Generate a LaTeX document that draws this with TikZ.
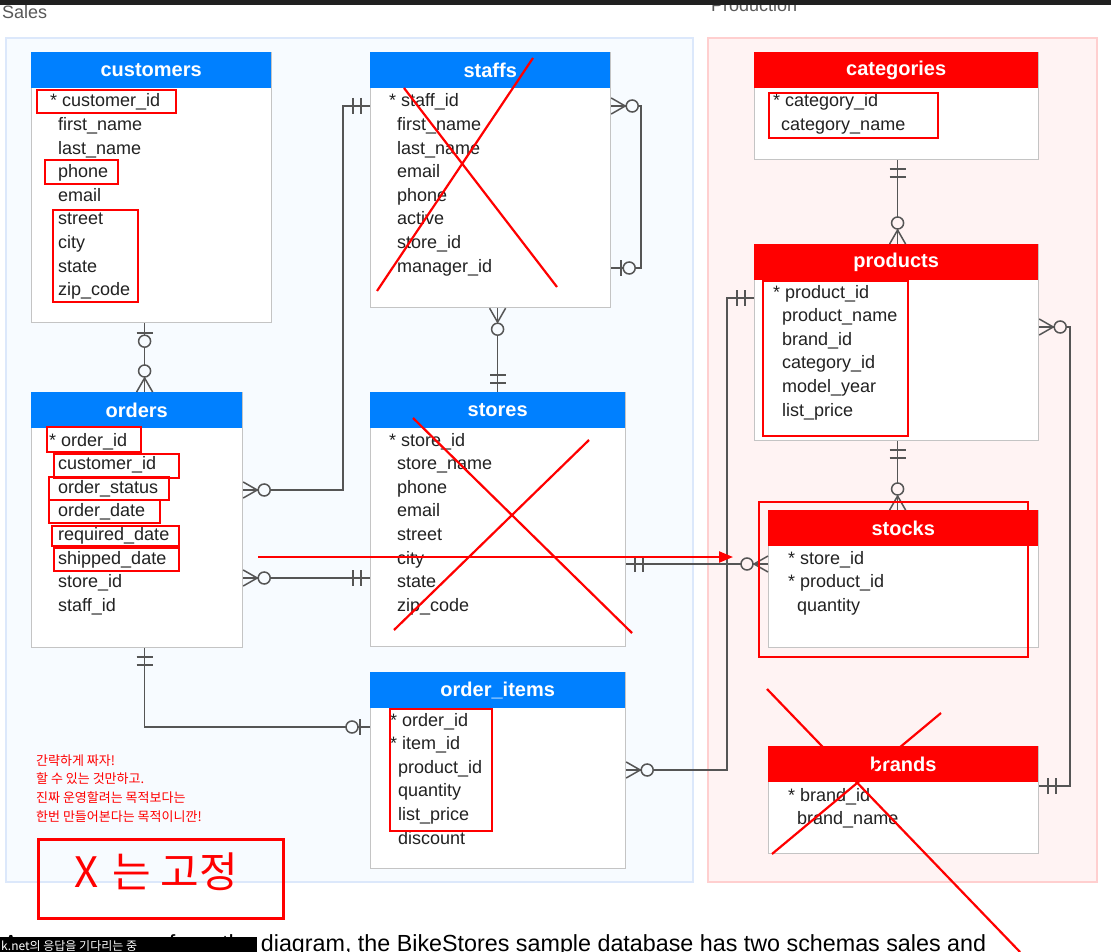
\documentclass[tikz,border=0pt]{standalone}
\usepackage{fontspec}
\setmainfont{Liberation Sans}
\newfontfamily\kr{Noto Sans CJK KR}
\usetikzlibrary{arrows.meta}
\definecolor{hblue}{HTML}{0080FF}
\definecolor{hred}{HTML}{FF0000}
\definecolor{salesbg}{HTML}{F7FBFF}
\definecolor{salesbd}{HTML}{DCE8FB}
\definecolor{prodbg}{HTML}{FFF3F3}
\definecolor{prodbd}{HTML}{FFCFCF}
\definecolor{tbd}{HTML}{C4C4C4}
\definecolor{conncol}{HTML}{555555}
\definecolor{rowtext}{HTML}{222222}
\definecolor{topbar}{HTML}{202020}
\definecolor{cf}{HTML}{F7FBFF}
\newcommand\erdtab[7]{%
  \node[tbody, minimum width=#4, minimum height=#5, anchor=north west] (#1) at (#2,#3) {};
  \node[thead, fill=#7, minimum width=#4, anchor=north west] (#1-h) at (#2,#3) {#6};
}
\newcommand\erdrows[3]{%
  \foreach \t [count=\i from 0] in {#3} {\node[row] at (#1,{#2+\i*23.6}) {\t};}
}
\tikzset{
  tbody/.style={draw=tbd, line width=1.2pt, fill=white, inner sep=0pt},
  thead/.style={minimum height=36, inner sep=0pt, text=white, font=\bfseries\fontsize{20}{24}\selectfont},
  row/.style={anchor=base west, inner sep=0pt, text=rowtext, font=\fontsize{18}{20}\selectfont},
  conn/.style={draw=conncol, line width=1.5pt},
  redmark/.style={draw=red, line width=2.5pt},
  redline/.style={draw=red, line width=2.2pt},
  note/.style={anchor=base west, inner sep=0pt, text=red, font=\kr\fontsize{13}{15}\selectfont},
  crowO/.pic={\draw[conn] (0,8)--(14,0)--(0,-8); \draw[conn] (0,0)--(15,0);
              \draw[conn, fill=cf] (21,0) circle[radius=6pt];},
  barO/.pic={\draw[conn] (10,8)--(10,-8); \draw[conn, fill=cf] (18,0) circle[radius=6pt];},
  dbar/.pic={\draw[conn] (9,8)--(9,-8); \draw[conn] (17,8)--(17,-8);},
}
\begin{document}
\begin{tikzpicture}[x=1pt,y=-1pt]
\useasboundingbox (0,0) rectangle (1111,952);
\clip (0,0) rectangle (1111,952);
\fill[white] (0,0) rectangle (1111,952);
% titles
\node[anchor=base west, inner sep=0pt, text=black!65, font=\fontsize{18}{20}\selectfont] (salest) at (2,19) {Sales};
\node[anchor=base west, inner sep=0pt, text=black!65, font=\fontsize{18}{20}\selectfont] (prodt) at (711,12) {Production};
\fill[topbar] (0,0) rectangle (1111,5);
% panels
\draw[salesbd, fill=salesbg, line width=2pt] (6,38) rectangle (693,882);
\draw[prodbd, fill=prodbg, line width=2pt] (708,38) rectangle (1097,882);
% tables
\erdtab{customers}{31}{52}{240}{270}{customers}{hblue}
\erdtab{staffs}{370}{52}{240}{255}{staffs}{hblue}
\erdtab{orders}{31}{392}{211}{255}{orders}{hblue}
\erdtab{stores}{370}{392}{255}{254}{stores}{hblue}
\erdtab{order_items}{370}{672}{255}{196}{order\_items}{hblue}
\erdtab{categories}{754}{52}{284}{107}{categories}{hred}
\erdtab{products}{754}{244}{284}{196}{products}{hred}
\erdtab{stocks}{768}{510}{270}{137}{stocks}{hred}
\erdtab{brands}{768}{746}{270}{107}{brands}{hred}
% rows
\node[row] at (50,107) {* customer\_id};
\erdrows{58}{130.6}{first\_name,last\_name,phone,email,street,city,state,zip\_code}
\node[row] at (389,107) {* staff\_id};
\erdrows{397}{130.6}{first\_name,last\_name,email,phone,active,store\_id,manager\_id}
\node[row] at (49,446) {* order\_id};
\erdrows{58}{469.6}{customer\_id,order\_status,order\_date,required\_date,shipped\_date,store\_id,staff\_id}
\node[row] at (389,446) {* store\_id};
\erdrows{397}{469.6}{store\_name,phone,email,street,city,state,zip\_code}
\node[row] at (390,726) {* order\_id};
\node[row] at (390,749.6) {* item\_id};
\erdrows{398}{773.2}{product\_id,quantity,list\_price,discount}
\node[row] at (773,107) {* category\_id};
\erdrows{781}{130.6}{category\_name}
\node[row] at (773,298) {* product\_id};
\erdrows{782}{321.6}{product\_name,brand\_id,category\_id,model\_year,list\_price}
\node[row] at (788,564) {* store\_id};
\node[row] at (788,587.6) {* product\_id};
\erdrows{797}{611.2}{quantity}
\node[row] at (788,801) {* brand\_id};
\erdrows{797}{824.6}{brand\_name}
% connector anchor points
\coordinate (c1a) at ([xshift=-7pt]customers.south);
\coordinate (c1b) at (c1a |- orders.north);
\coordinate (o1) at ([yshift=-98pt]orders.north east);
\coordinate (s1) at ([yshift=-54pt]staffs.north west);
\coordinate (st1) at ([yshift=-54pt]staffs.north east);
\coordinate (st2) at ([yshift=-216pt]staffs.north east);
\coordinate (sa) at ([xshift=7pt]staffs.south);
\coordinate (sb) at (sa |- stores.north);
\coordinate (o2) at ([yshift=-186pt]orders.north east);
\coordinate (r2) at (o2 -| stores.west);
\coordinate (s2) at ([yshift=-172pt]stores.north east);
\coordinate (k1) at (s2 -| stocks.west);
\coordinate (oi1) at ([yshift=-98pt]order_items.north east);
\coordinate (p1) at ([yshift=-54pt]products.north west);
\coordinate (ca) at ([xshift=1pt]categories.south);
\coordinate (cb) at (ca |- products.north);
\coordinate (p2) at ([xshift=1pt]products.south);
\coordinate (kb) at (p2 |- stocks.north);
\coordinate (p3) at ([yshift=-83pt]products.north east);
\coordinate (b1) at ([yshift=-40pt]brands.north east);
\coordinate (o3) at ([xshift=7.5pt]orders.south);
\coordinate (oi2) at ([yshift=-55pt]order_items.north west);
% connectors
\draw[conn] (c1a) -- (c1b);
\draw[conn] (o1) -- ++(100,0) |- (s1);
\draw[conn] (st1) -- ++(30,0) |- (st2);
\draw[conn] (sa) -- (sb);
\draw[conn] (o2) -- (r2);
\draw[conn] (s2) -- (k1);
\draw[conn] (oi1) -- ++(101,0) |- (p1);
\draw[conn] (ca) -- (cb);
\draw[conn] (p2) -- (kb);
\draw[conn] (p3) -- ++(31,0) |- (b1);
\draw[conn] (o3) |- (oi2);
% ends (sales panel)
\pic[rotate=-90] at (c1a) {barO};
\pic[rotate=90] at (c1b) {crowO};
\pic at (o1) {crowO};
\pic[rotate=180] at (s1) {dbar};
\pic at (st1) {crowO};
\pic at (st2) {barO};
\pic[rotate=-90] at (sa) {crowO};
\pic[rotate=90] at (sb) {dbar};
\pic at (o2) {crowO};
\pic[rotate=180] at (r2) {dbar};
\pic at (s2) {dbar};
\pic at (oi1) {crowO};
\pic[rotate=-90] at (o3) {dbar};
\pic[rotate=180] at (oi2) {barO};
% ends (production panel)
\colorlet{cf}{prodbg}
\pic[rotate=180] at (k1) {crowO};
\pic[rotate=180] at (p1) {dbar};
\pic[rotate=-90] at (ca) {dbar};
\pic[rotate=90] at (cb) {crowO};
\pic[rotate=-90] at (p2) {dbar};
\pic[rotate=90] at (kb) {crowO};
\pic at (p3) {crowO};
\pic at (b1) {dbar};
% red annotations
\draw[redmark] (37,90) rectangle (176,113);
\draw[redmark] (45,160) rectangle (118,184);
\draw[redmark] (53,210) rectangle (138,302);
\draw[redmark] (47,427) rectangle (141,452);
\draw[redmark] (54,454) rectangle (179,478);
\draw[redmark] (49,477) rectangle (169,500);
\draw[redmark] (49,500) rectangle (160,523);
\draw[redmark] (52,526) rectangle (179,546);
\draw[redmark] (54,548) rectangle (179,571);
\draw[redmark] (769,93) rectangle (938,138);
\draw[redmark] (763,281) rectangle (908,436);
\draw[redmark] (759,502) rectangle (1028,657);
\draw[redmark] (390,709) rectangle (492,831);
\draw[redline] (377,291) -- (533,58);
\draw[redline] (404,88) -- (557,287);
\draw[redline] (394,630) -- (589,440);
\draw[redline] (413,418) -- (632,633);
\draw[redline] (767,689) -- (1020,952);
\draw[redline] (941,713) -- (772,854);
\coordinate (ra) at (258,557);
\coordinate (rb) at (733,557);
\draw[redline, -{Triangle[length=14pt,width=11pt]}] (ra) -- (rb);
% korean notes
\node[note] (n1) at (36,765) {간략하게 짜자!};
\node[note] (n2) at (36,783.5) {할 수 있는 것만하고.};
\node[note] (n3) at (36,802) {진짜 운영할려는 목적보다는};
\node[note] (n4) at (36,821) {한번 만들어본다는 목적이니깐!};
\draw[red, line width=3pt] (38,839) rectangle (283,918);
\node[text=red, font=\kr\fontsize{42}{46}\selectfont, inner sep=0pt] (hw) at (156,872) {X\hspace{14pt}는\hspace{10pt}고정};
% bottom text
\node[anchor=base west, inner sep=0pt, text=black, font=\fontsize{23.3}{26}\selectfont] (btxt) at (3,951) {As you can see from the diagram, the BikeStores sample database has two schemas sales and};
\fill[black] (0,937) rectangle (257,952);
\node[anchor=base west, inner sep=0pt, text=white, font=\kr\fontsize{12}{13}\selectfont] (tip) at (1,950) {k.net의 응답을 기다리는 중};
\end{tikzpicture}
\end{document}
